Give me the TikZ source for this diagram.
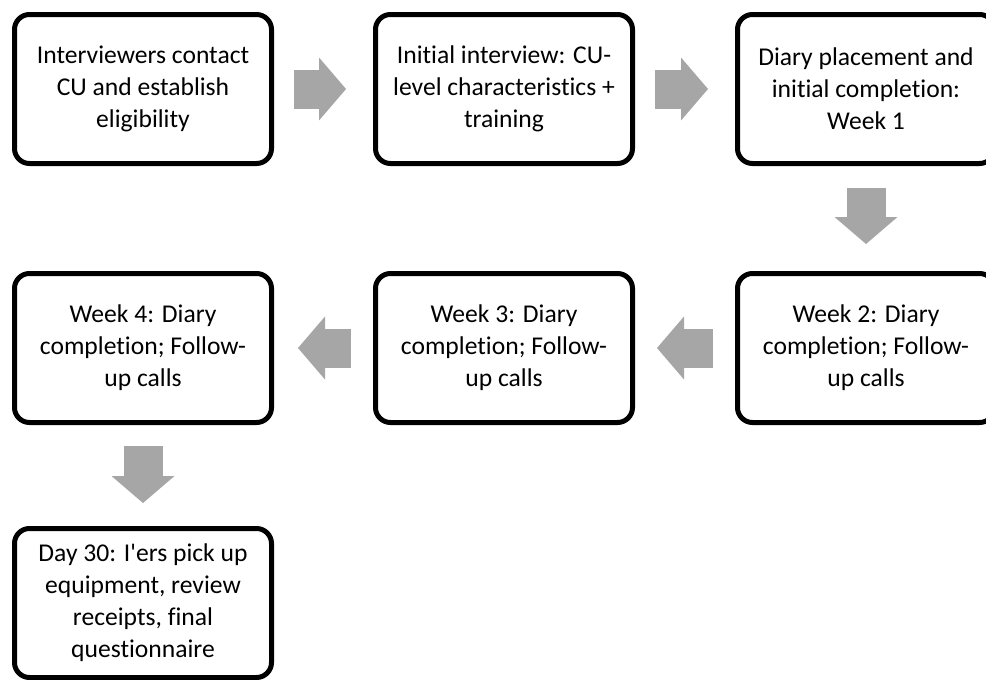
\documentclass[tikz,border=0pt]{standalone}
\usepackage{fontspec}
\newfontfamily\boxfont{Carlito}[Ligatures=NoCommon]
\usetikzlibrary{arrows.meta}
\definecolor{arrowgray}{RGB}{166,166,166}
\begin{document}
\begin{tikzpicture}[x=1pt, y=1pt]

        \tikzset{stepbox/.style={draw=black, line width=5pt, rounded corners=15pt, minimum width=257pt, minimum height=149pt, align=center, font=\boxfont\fontsize{25.6}{32}\selectfont}}
        \tikzset{bigarrow/.style={draw=arrowgray, line width=39pt, -{Triangle[width=63pt, length=27pt, line width=0pt]}}}

        \useasboundingbox (0, 0) rectangle (986, -680);

        % first row, left to right
        \node[stepbox] at (143, -89) (contact) {Interviewers contact\\CU and establish\\eligibility};
        \node[stepbox] at (504, -89) (initial) {Initial interview: CU-\\level characteristics +\\training};
        \node[stepbox] at (866, -89) (place) {Diary placement and\\initial completion:\\Week 1};

        % second row, right to left
        \node[stepbox] at (866, -348) (wktwo) {Week 2: Diary\\completion; Follow-\\up calls};
        \node[stepbox] at (504, -348) (wkthree) {Week 3: Diary\\completion; Follow-\\up calls};
        \node[stepbox] at (143, -348) (wkfour) {Week 4: Diary\\completion; Follow-\\up calls};

        % last node
        \node[stepbox] at (143, -603) (pickup) {Day 30: I'ers pick up\\equipment, review\\receipts, final\\questionnaire};

        % arrows
        \draw[bigarrow, shorten <=20pt, shorten >=27pt] (contact) -- (initial);
        \draw[bigarrow, shorten <=20pt, shorten >=27pt] (initial) -- (place);
        \draw[bigarrow, shorten <=22pt, shorten >=27pt] (place) -- (wktwo);
        \draw[bigarrow, shorten <=22pt, shorten >=22pt] (wktwo) -- (wkthree);
        \draw[bigarrow, shorten <=22pt, shorten >=24pt] (wkthree) -- (wkfour);
        \draw[bigarrow, shorten <=21pt, shorten >=23pt] (wkfour) -- (pickup);

    \end{tikzpicture}
\end{document}
